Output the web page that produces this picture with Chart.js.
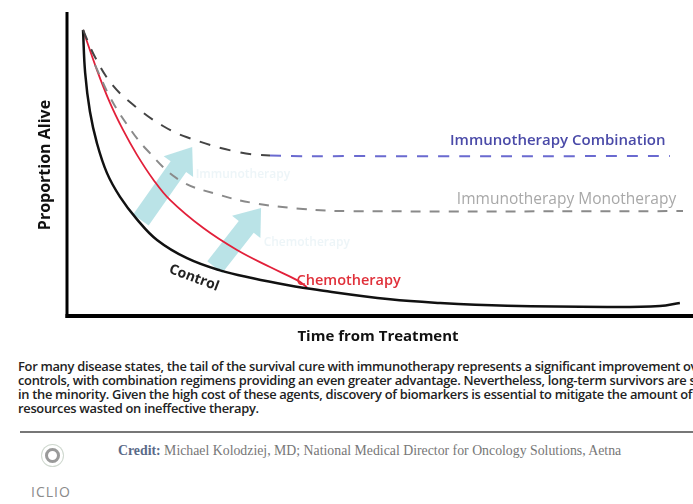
<!DOCTYPE html>
<html>
<head>
<meta charset="utf-8">
<script src="https://cdn.jsdelivr.net/npm/chart.js@4.4.1/dist/chart.umd.min.js"></script>
<style>
  html, body { margin: 0; padding: 0; background: #fff; }
  #wrap { position: relative; width: 693px; height: 504px; overflow: hidden; font-family: "Open Sans", sans-serif; }
  #chartBox { position: absolute; left: 0; top: 0; width: 693px; height: 350px; }
  #caption { position: absolute; left: 18px; top: 359px; width: 800px; font-size: 12.9px; line-height: 14px; font-weight: 600; color: #222; white-space: nowrap; letter-spacing: -0.3px; }
  #rule { position: absolute; left: 20px; top: 431px; width: 680px; height: 2px; background: #777; }
  #credit { position: absolute; left: 118px; top: 443px; font-family: "Liberation Serif", serif; font-size: 13.8px; color: #777; white-space: nowrap; }
  #credit b { color: #5a6a88; }
  #logoRing { position: absolute; left: 45px; top: 448px; width: 9px; height: 9px; border: 3px solid #9a9a9a; border-radius: 50%; box-shadow: 0 0 0 3px #fff, 0 0 0 4px #cfd8cf; }
  #logoText { position: absolute; left: 31px; top: 482px; font-size: 14px; color: #8a8a8a; letter-spacing: 1px; }
</style>
</head>
<body>
<div id="wrap">
  <div id="chartBox"><canvas id="survival" width="693" height="350"></canvas></div>
  <div id="caption">
    For many disease states, the tail of the survival cure with immunotherapy represents a significant improvement over<br>
    controls, with combination regimens providing an even greater advantage. Nevertheless, long-term survivors are still<br>
    in the minority. Given the high cost of these agents, discovery of biomarkers is essential to mitigate the amount of<br>
    resources wasted on ineffective therapy.
  </div>
  <div id="rule"></div>
  <div id="credit"><b>Credit:</b> Michael Kolodziej, MD; National Medical Director for Oncology Solutions, Aetna</div>
  <div id="logoRing"></div>
  <div id="logoText">ICLIO</div>
</div>
<script>
// survival curves: x = time (0-100), y = proportion alive (0-1)
var controlX = [2.56, 2.9, 3.67, 4.79, 6.39, 8.47, 11.18, 14.38, 19.17, 24.44, 29.71, 35.14, 39.94, 51.6, 59.6, 70.3, 86.3, 94.7, 97.9];
var controlY = [0.941, 0.800, 0.672, 0.568, 0.470, 0.392, 0.318, 0.250, 0.190, 0.150, 0.124, 0.102, 0.086, 0.055, 0.043, 0.034, 0.030, 0.033, 0.043];

var chemoX = [2.56, 4.79, 6.87, 8.95, 11.18, 13.74, 16.45, 21.73, 27.16, 32.43, 36.74, 38.34];
var chemoY = [0.941, 0.809, 0.701, 0.612, 0.530, 0.450, 0.382, 0.290, 0.217, 0.161, 0.118, 0.095];

var comboX = [2.56, 4.47, 7.35, 11.18, 15.34, 19.17, 27.16, 32.43, 45.2, 96.3];
var comboY = [0.941, 0.852, 0.758, 0.685, 0.625, 0.588, 0.540, 0.528, 0.526, 0.526];

var monoX = [4.47, 6.87, 9.58, 12.78, 18.05, 24.44, 29.71, 37.7, 45.2, 98.4];
var monoY = [0.826, 0.720, 0.630, 0.546, 0.446, 0.398, 0.372, 0.352, 0.345, 0.345];

// benefit arrows: [tailX, tailY, headX, headY]
var arrows = [
    [11.8, 0.316, 20.0, 0.556],
    [23.6, 0.161, 31.0, 0.355]
];

function pts(xs, ys) {
    return xs.map(function (x, i) { return { x: x, y: ys[i] }; });
}

// curve labels drawn on the plot
var labels = [
    { text: 'Immunotherapy Combination', x: 78.4, y: 0.576, color: '#4a4aa8', font: '600 15px "Open Sans"', rot: 0 },
    { text: 'Immunotherapy Monotherapy', x: 79.8, y: 0.382, color: '#a8a8a8', font: '400 15.5px "Open Sans"', rot: 0 },
    { text: 'Chemotherapy', x: 45.0, y: 0.115, color: '#e0303a', font: '600 14.5px "Open Sans"', rot: 0 },
    { text: 'Control', x: 20.3, y: 0.125, color: '#222', font: '700 14px "Open Sans"', rot: 0.36 },
    { text: 'Immunotherapy', x: 28.1, y: 0.464, color: 'rgba(220,235,242,0.5)', font: '600 12px "Open Sans"', rot: 0 },
    { text: 'Chemotherapy', x: 38.3, y: 0.240, color: 'rgba(220,235,242,0.5)', font: '600 12px "Open Sans"', rot: 0 }
];

var arrowPlugin = {
    id: 'arrowPlugin',
    beforeDatasetsDraw: function (chart) {
        var ctx = chart.ctx, xs = chart.scales.x, ys = chart.scales.y;
        arrows.forEach(function (a) {
            var x0 = xs.getPixelForValue(a[0]), y0 = ys.getPixelForValue(a[1]);
            var x1 = xs.getPixelForValue(a[2]), y1 = ys.getPixelForValue(a[3]);
            var dx = x1 - x0, dy = y1 - y0, len = Math.sqrt(dx * dx + dy * dy);
            var ux = dx / len, uy = dy / len, nx = -uy, ny = ux;
            var shaft = 9.5, head = 18, headLen = 24;
            var bx = x1 - ux * headLen, by = y1 - uy * headLen;
            ctx.save();
            ctx.fillStyle = 'rgba(160,216,222,0.72)';
            ctx.beginPath();
            ctx.moveTo(x0 + nx * shaft, y0 + ny * shaft);
            ctx.lineTo(bx + nx * shaft, by + ny * shaft);
            ctx.lineTo(bx + nx * head, by + ny * head);
            ctx.lineTo(x1, y1);
            ctx.lineTo(bx - nx * head, by - ny * head);
            ctx.lineTo(bx - nx * shaft, by - ny * shaft);
            ctx.lineTo(x0 - nx * shaft, y0 - ny * shaft);
            ctx.closePath();
            ctx.fill();
            ctx.restore();
        });
    },
    afterDraw: function (chart) {
        var ctx = chart.ctx, xs = chart.scales.x, ys = chart.scales.y, area = chart.chartArea;
        ctx.save();
        ctx.textAlign = 'center';
        ctx.textBaseline = 'middle';
        labels.forEach(function (l) {
            ctx.save();
            ctx.translate(xs.getPixelForValue(l.x), ys.getPixelForValue(l.y));
            ctx.rotate(l.rot);
            ctx.font = l.font;
            ctx.fillStyle = l.color;
            ctx.fillText(l.text, 0, 0);
            ctx.restore();
        });
        // axis titles
        ctx.fillStyle = '#111';
        ctx.font = '700 15px "Open Sans"';
        ctx.fillText('Time from Treatment', 378, 337);
        ctx.font = '700 16px "Open Sans"';
        ctx.translate(45, 165);
        ctx.rotate(-Math.PI / 2);
        ctx.fillText('Proportion Alive', 0, 0);
        ctx.restore();
        // axes
        ctx.save();
        ctx.strokeStyle = '#000';
        ctx.lineWidth = 3;
        ctx.beginPath();
        ctx.moveTo(area.left, 12);
        ctx.lineTo(area.left, area.bottom + 2);
        ctx.stroke();
        ctx.lineWidth = 4;
        ctx.beginPath();
        ctx.moveTo(area.left - 1.5, area.bottom);
        ctx.lineTo(693, area.bottom);
        ctx.stroke();
        ctx.restore();
    }
};

var comboColor = function (c) { return c.p0.parsed.x >= 30 ? '#6a6ad0' : '#444'; };

new Chart(document.getElementById('survival'), {
    type: 'line',
    data: {
        datasets: [
            { label: 'Immunotherapy Monotherapy', data: pts(monoX, monoY), borderColor: '#8a8a8a', borderWidth: 2, borderDash: [10, 9] },
            { label: 'Immunotherapy Combination', data: pts(comboX, comboY), borderColor: '#444', borderWidth: 2, borderDash: [11, 10], segment: { borderColor: comboColor } },
            { label: 'Control', data: pts(controlX, controlY), borderColor: '#111', borderWidth: 2.5 },
            { label: 'Chemotherapy', data: pts(chemoX, chemoY), borderColor: '#e2203a', borderWidth: 1.8 }
        ]
    },
    options: {
        responsive: false,
        animation: false,
        layout: { padding: { left: 67, top: 12, right: 0, bottom: 34 } },
        elements: { point: { radius: 0 }, line: { tension: 0.4 } },
        plugins: { legend: { display: false }, tooltip: { enabled: false } },
        scales: {
            x: { type: 'linear', min: 0, max: 100, display: false },
            y: { type: 'linear', min: 0, max: 1, display: false }
        }
    },
    plugins: [arrowPlugin]
});
</script>
</body>
</html>
